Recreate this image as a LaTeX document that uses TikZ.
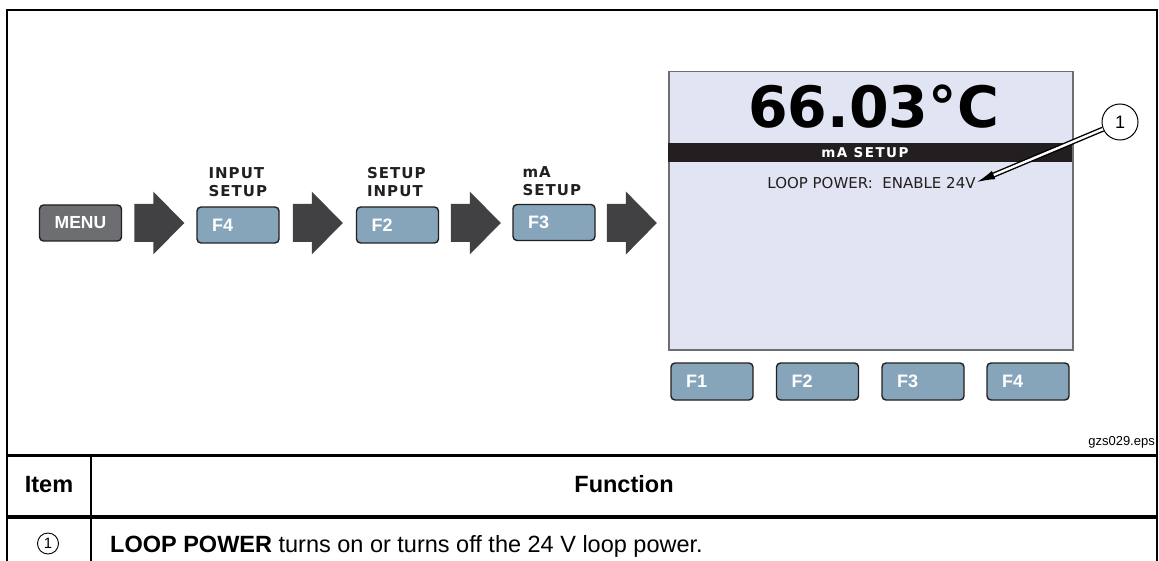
\documentclass[tikz,border=0pt]{standalone}
\usepackage{fontspec}
\setmainfont{Liberation Sans}
\newfontfamily\lcd{DejaVu Sans}
\newfontfamily\lcdwide[LetterSpace=7]{DejaVu Sans}
\usepackage{tikz}
\usetikzlibrary{calc,positioning,arrows.meta}
\definecolor{ink}{HTML}{231F20}
\definecolor{keyblue}{HTML}{86A5BA}
\definecolor{menugray}{HTML}{6D6E71}
\definecolor{arrowgray}{HTML}{414042}
\definecolor{lcdbg}{HTML}{E1E4F3}
\definecolor{lcdedge}{HTML}{6D6E71}
\tikzset{
  frame/.style={draw=black, line width=2pt},
  rule/.style={draw=black, line width=3.6pt},
  fkey/.style={draw=ink, fill=keyblue, line width=1.4pt, rounded corners=4pt, minimum width=82pt, minimum height=36pt, text width=52pt, inner xsep=15pt, inner ysep=0pt, align=left, text=white, font=\bfseries\fontsize{18}{18}\selectfont},
  menukey/.style={fkey, fill=menugray, align=center, font=\bfseries\fontsize{17.5}{17.5}\selectfont},
  keylab/.style={font=\lcdwide\bfseries\fontsize{15}{18}\selectfont, align=left, inner sep=0pt, text=ink},
  bigarrow/.style={fill=arrowgray},
  lcdbox/.style={draw=lcdedge, fill=lcdbg, line width=1.5pt, minimum width=404pt, minimum height=278pt, anchor=north west, inner sep=0pt},
  lcdbar/.style={fill=ink, minimum width=404pt, minimum height=19pt, anchor=north west, inner sep=0pt},
  callnum/.style={circle, draw=black, line width=1pt, fill=white, inner sep=0pt, minimum size=36pt, font=\fontsize{18}{18}\selectfont},
  callout/.style={draw=black, double=white, double distance=2.4pt, line width=1.4pt, -{Latex[length=18pt,width=9pt]}},
  hd/.style={font=\bfseries\fontsize{23.5}{23.5}\selectfont, inner sep=0pt, anchor=base},
  cell/.style={font=\fontsize{23.5}{23.5}\selectfont, inner sep=0pt, anchor=base west},
}

\begin{document}
\begin{tikzpicture}[x=1pt, y=-1pt]
  \useasboundingbox[fill=white] (0,0) rectangle (1159,561);

  % keys of the menu path
  \node[menukey] (menu) at (80.5,223) {MENU};
  \node[fkey] (f4) at (238,225) {F4};
  \node[fkey] (f2) at (397.5,225) {F2};
  \node[fkey] (f3) at (554,222.5) {F3};
  \node[keylab, above right=9pt and 12pt of f4.north west] (l4) {INPUT\\SETUP};
  \node[keylab, above right=9pt and 11pt of f2.north west] (l2) {SETUP\\INPUT};
  \node[keylab, above right=8pt and 10pt of f3.north west] (l3) {mA\\SETUP};

  % display
  \node[lcdbox] (screen) at (668,71) {};
  \node[lcdbar] (bar) at (668,143) {};
  \node[anchor=base, inner sep=0pt, font=\lcd\bfseries\fontsize{57}{57}\selectfont] (temp) at (873.5,128) {66.03°C};
  \node[anchor=base, inner sep=0pt, text=white, font=\lcd\bfseries\fontsize{13.5}{13.5}\selectfont\addfontfeature{LetterSpace=11}] (mode) at (865,158) {mA SETUP};
  \node[anchor=base, inner sep=0pt, text=ink, font=\lcd\fontsize{15}{15}\selectfont] (loop) at (871.5,189) {LOOP POWER:\ \ ENABLE 24V};

  \foreach \a/\b in {menu/f4,f4/f2,f2/f3,f3/screen}{
    \coordinate (m) at ($(\a.east)!.5!(\b.west)$);
    \begin{scope}[shift={(m |- menu)}]
      \fill[bigarrow] (-25,-19) -- (-6,-19) -- (-6,-31.5) -- (25,0) -- (-6,31.5) -- (-6,19) -- (-25,19) -- cycle;
    \end{scope}
  }

  \foreach \i/\x in {1/712,2/817.5,3/923,4/1028}{
    \node[fkey, minimum height=37pt] (k\i) at (\x,381.5) {F\i};
  }

  % callout
  \node[callnum] (call) at (1120,122) {1};
  \coordinate (tip) at (977,182);
  \draw[callout] (call) -- (tip);

  \node[anchor=base east, inner sep=0pt, font=\fontsize{13}{13}\selectfont] (fig) at (1155,445) {gzs029.eps};

  % frame and table
  \draw[frame] (7,575) -- (7,10.5) -- (1157,10.5) -- (1157,575);
  \draw[rule] (7,455.5) -- (1157,455.5);
  \draw[rule] (7,517) -- (1157,517);
  \draw[frame] (91,455) -- (91,575);
  \node[hd] (item) at (49,492) {Item};
  \node[hd] (func) at (624,492) {Function};
  \node[circle, draw=black, line width=0.9pt, minimum size=21pt, inner sep=0pt, font=\fontsize{15}{15}\selectfont] (n1) at (48,543.5) {1};
  \node[cell] (desc) at (110,552) {\textbf{LOOP POWER} turns on or turns off the 24 V loop power.};
\end{tikzpicture}
\end{document}
